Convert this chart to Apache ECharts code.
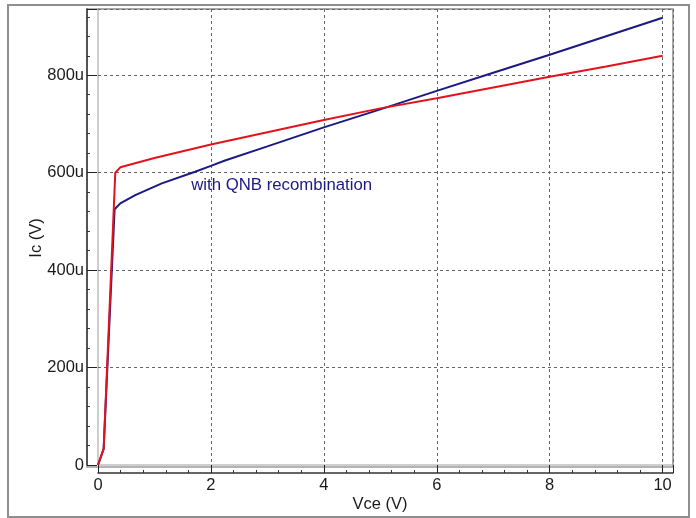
<!DOCTYPE html>
<html>
<head>
<meta charset="utf-8">
<script src="https://cdn.jsdelivr.net/npm/echarts@6/dist/echarts.min.js"></script>
<style>
  html, body { margin: 0; padding: 0; background: #ffffff; }
  #chart { width: 696px; height: 518px; }
</style>
</head>
<body>
<div id="chart"></div>
<script>
// Collector current (uA) versus collector-emitter voltage (V)
const vceBase = [0, 0.10, 0.306, 0.395, 1, 2, 3, 4, 5, 6, 7, 8, 9, 10];
const icBase  = [0, 33, 600, 611, 630, 658, 683, 708, 732, 753, 775, 797, 818, 840];

const vceQnb = [0, 0.10, 0.294, 0.395, 0.66, 1.13, 1.72, 2, 2.25, 3, 4, 5, 6, 7, 8, 9, 10];
const icQnb  = [0, 33, 525, 537, 554, 578, 602, 614, 625, 654, 693, 730, 768, 805, 842, 880, 918];

const xTickValues = [0, 2, 4, 6, 8, 10];
const yTickValues = [0, 200, 400, 600, 800];
const yTickLabels = ['0', '200u', '400u', '600u', '800u'];

const annotationText = 'with QNB recombination';
const annotationAt = [1.65, 573];

const FONT = '"Liberation Sans", Arial, sans-serif';
const TEXT = '#1a1a1a';
const RED = '#e3121c';
const NAVY = '#1a1a82';

const pairs = (xs, ys) => xs.map((x, i) => [x, ys[i]]);

const chart = echarts.init(document.getElementById('chart'), null, { renderer: 'canvas' });

chart.setOption({
  animation: false,
  backgroundColor: '#ffffff',
  textStyle: { fontFamily: FONT },
  graphic: [{
    type: 'rect',
    silent: true,
    z: -10,
    shape: { x: 8, y: 5, width: 681, height: 512 },
    style: { fill: null, stroke: '#8f8f8f', lineWidth: 2 }
  }],
  grid: [
    // data area: left edge is Vce = 0, bottom edge is Ic = 0
    { left: 98, right: 23, top: 9, bottom: 53, show: true,
      borderColor: '#9c9c9c', borderWidth: 1, backgroundColor: 'transparent' },
    // surrounding plot frame that carries the axis names
    { left: 87, right: 23, top: 9, bottom: 45, show: true,
      borderColor: '#9c9c9c', borderWidth: 1.5, backgroundColor: 'transparent' }
  ],
  xAxis: [
    {
      type: 'value', gridIndex: 0,
      min: 0, max: 10.184, interval: 2,
      offset: 8,
      axisLine: { show: true, onZero: false, lineStyle: { color: '#333333', width: 1.5 } },
      axisTick: { show: true, inside: true, length: 8, lineStyle: { color: '#222222', width: 1 } },
      minorTick: { show: true, splitNumber: 5, length: 3, lineStyle: { color: '#333333', width: 1 } },
      axisLabel: {
        color: TEXT, fontSize: 16.5, fontFamily: FONT, margin: 4,
        formatter: v => xTickValues.includes(v) ? String(v) : ''
      },
      splitLine: { show: true, showMinLine: false, lineStyle: { color: '#666666', width: 1, type: [3, 3] } }
    },
    {
      type: 'value', gridIndex: 1, min: 0, max: 1,
      axisLine: { show: false }, axisTick: { show: false },
      axisLabel: { show: false }, splitLine: { show: false },
      name: 'Vce (V)', nameLocation: 'middle', nameGap: 29,
      nameTextStyle: { color: TEXT, fontSize: 16.5, fontFamily: FONT }
    }
  ],
  yAxis: [
    {
      type: 'value', gridIndex: 0,
      min: 0, max: 936, interval: 200,
      offset: 11,
      axisLine: { show: true, onZero: false, lineStyle: { color: '#333333', width: 1.5 } },
      axisTick: { show: true, inside: true, length: 10, lineStyle: { color: '#222222', width: 1 } },
      minorTick: { show: true, splitNumber: 5, length: 3, lineStyle: { color: '#333333', width: 1 } },
      axisLabel: {
        color: TEXT, fontSize: 16.5, fontFamily: FONT, margin: 3,
        formatter: v => {
          const i = yTickValues.indexOf(v);
          return i >= 0 ? yTickLabels[i] : '';
        }
      },
      splitLine: { show: true, showMinLine: false, lineStyle: { color: '#666666', width: 1, type: [3, 3] } }
    },
    {
      type: 'value', gridIndex: 1, min: 0, max: 1,
      axisLine: { show: false }, axisTick: { show: false },
      axisLabel: { show: false }, splitLine: { show: false },
      name: 'Ic (V)', nameLocation: 'middle', nameGap: 42,
      nameTextStyle: { color: TEXT, fontSize: 16.5, fontFamily: FONT }
    }
  ],
  series: [
    {
      name: 'with QNB recombination',
      type: 'line',
      xAxisIndex: 0, yAxisIndex: 0,
      data: pairs(vceQnb, icQnb),
      showSymbol: false,
      lineStyle: { color: NAVY, width: 2 },
      itemStyle: { color: NAVY },
      z: 2,
      markPoint: {
        symbol: 'circle', symbolSize: 0,
        silent: true,
        data: [{
          coord: annotationAt,
          label: {
            show: true, position: 'right', distance: 0,
            formatter: annotationText,
            color: NAVY, fontSize: 16.8, fontFamily: FONT
          }
        }]
      }
    },
    {
      name: 'without QNB recombination',
      type: 'line',
      xAxisIndex: 0, yAxisIndex: 0,
      data: pairs(vceBase, icBase),
      showSymbol: false,
      lineStyle: { color: RED, width: 2 },
      itemStyle: { color: RED },
      z: 3
    }
  ]
});
</script>
</body>
</html>
